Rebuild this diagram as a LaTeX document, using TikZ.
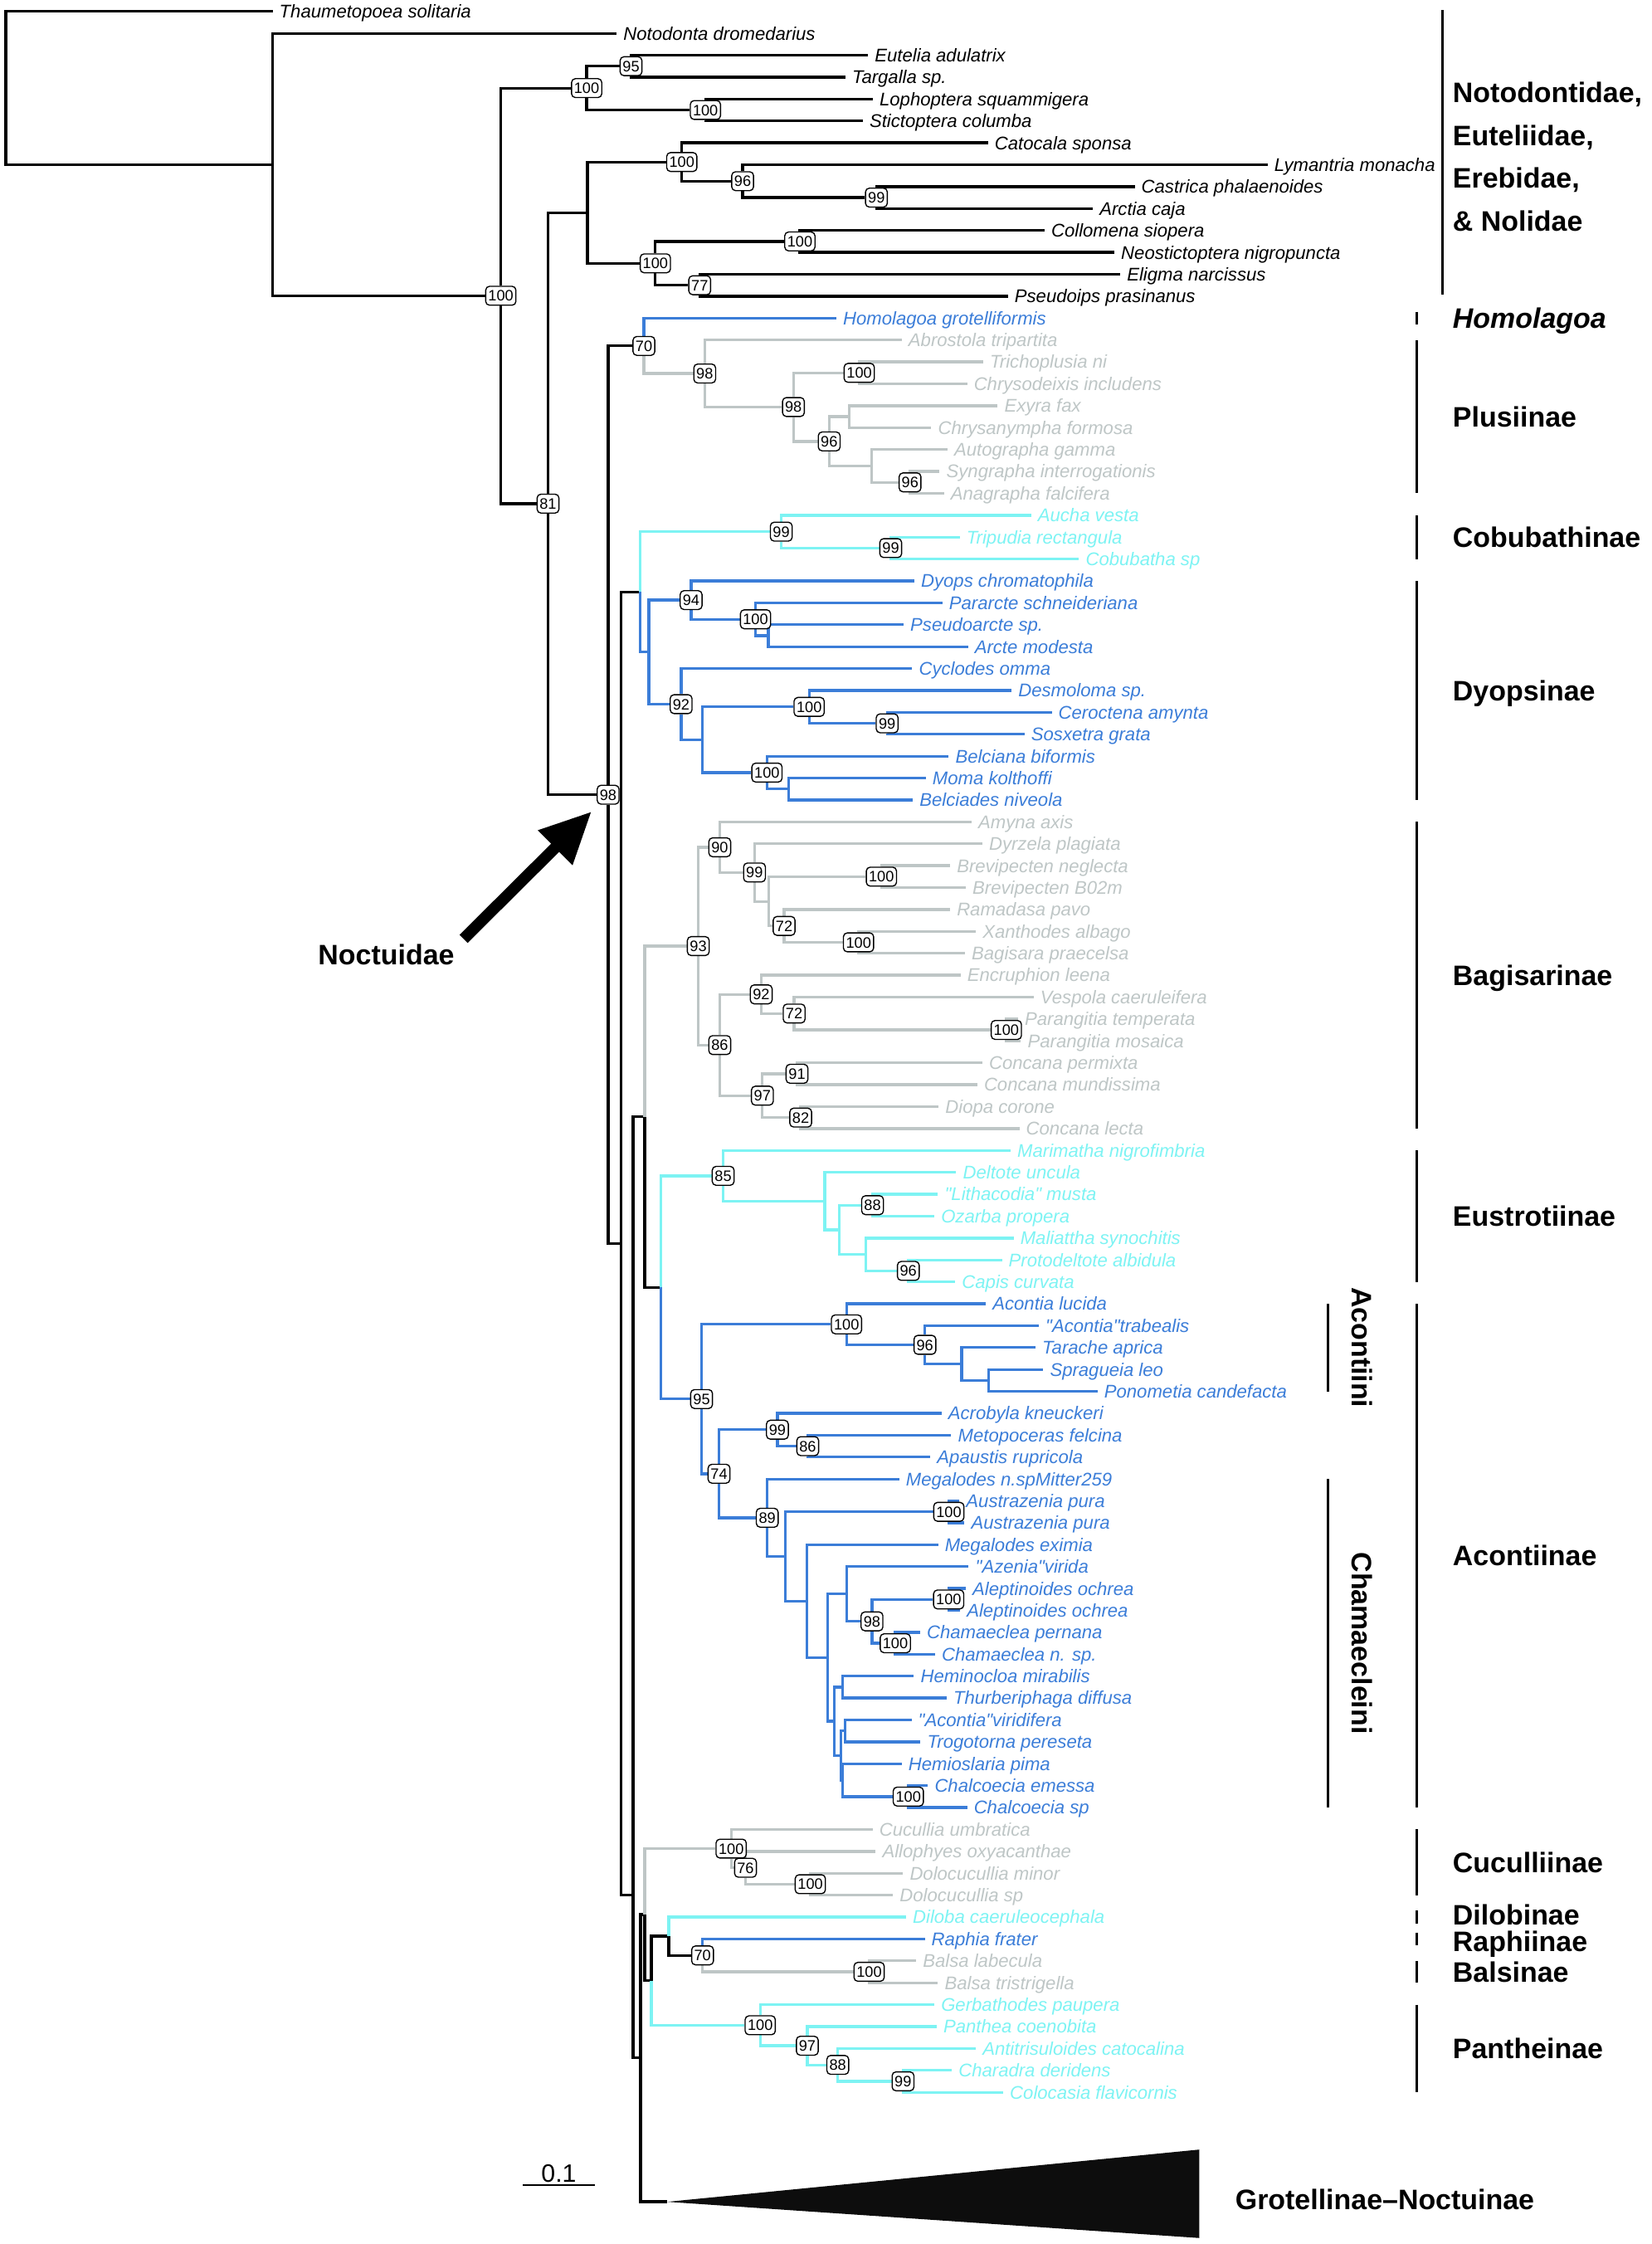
\documentclass[tikz,border=0pt]{standalone}
\usepackage{fontspec}
\setmainfont{Liberation Sans}[Ligatures=TeXOff]
\usetikzlibrary{arrows.meta,backgrounds}
\definecolor{noctblue}{HTML}{3B7DD8}
\definecolor{noctgrey}{HTML}{BEC6C6}
\definecolor{noctcyan}{HTML}{7DF3F3}
% row k of the tree sits at y = 8 + 15.305 k
\newcommand{\rowy}[1]{8+15.305*(#1)}
\newcommand{\leaf}[5]{\node[taxon,text=#4] (#1) at (#3,{\rowy{#2}}) {#5};}
\newcommand{\boot}[4]{\node[bs] (#1) at (#2,{\rowy{#3}}) {#4};}
\newcommand{\knot}[3]{\coordinate (#1) at (#2,{\rowy{#3}});}

\begin{document}
\begin{tikzpicture}[x=0.02cm, y=-0.02cm,
    taxon/.style={anchor=west, inner xsep=2.5pt, inner ysep=0pt, font=\fontsize{7.3}{8}\selectfont\itshape, text height=5.2pt, text depth=0pt},
    bs/.style={draw, rounded corners=1.5pt, fill=white, line width=0.45pt, inner xsep=1pt, inner ysep=1.6pt, font=\fontsize{6}{6}\selectfont, text height=4.3pt, text depth=0pt},
    famlab/.style={anchor=west, inner sep=0pt, font=\fontsize{11.2}{12}\selectfont\bfseries, text height=8pt, text depth=0pt},
    clade/.style={line width=1.1pt},
    famline/.style={line width=0.9pt}
]
\useasboundingbox (0,0) rectangle (1154,1568);

% outgroup families
\leaf{thau}{0}{190.5}{black}{Thaumetopoea solitaria}
\leaf{noto}{1}{431}{black}{Notodonta dromedarius}
\leaf{eute}{2}{606.7}{black}{Eutelia adulatrix}
\leaf{targ}{3}{590.8}{black}{Targalla sp.}
\leaf{loph}{4}{610}{black}{Lophoptera squammigera}
\leaf{stic}{5}{603}{black}{Stictoptera columba}
\leaf{cato}{6}{690.5}{black}{Catocala sponsa}
\leaf{lyma}{7}{885.8}{black}{Lymantria monacha}
\leaf{cast}{8}{793}{black}{Castrica phalaenoides}
\leaf{arct}{9}{763.8}{black}{Arctia caja}
\leaf{coll}{10}{730}{black}{Collomena siopera}
\leaf{neos}{11}{778.8}{black}{Neostictoptera nigropuncta}
\leaf{elig}{12}{782.9}{black}{Eligma narcissus}
\leaf{pseu}{13}{704.4}{black}{Pseudoips prasinanus}
% Noctuidae
\leaf{homo}{14}{584.5}{noctblue}{Homolagoa grotelliformis}
\leaf{abro}{15}{630.2}{noctgrey}{Abrostola tripartita}
\leaf{tric}{16}{687.1}{noctgrey}{Trichoplusia ni}
\leaf{chry}{17}{675.9}{noctgrey}{Chrysodeixis includens}
\leaf{exyr}{18}{697.2}{noctgrey}{Exyra fax}
\leaf{chrn}{19}{650.9}{noctgrey}{Chrysanympha formosa}
\leaf{auto}{20}{662.2}{noctgrey}{Autographa gamma}
\leaf{syng}{21}{656.7}{noctgrey}{Syngrapha interrogationis}
\leaf{anag}{22}{659.7}{noctgrey}{Anagrapha falcifera}
\leaf{auch}{23}{720.6}{noctcyan}{Aucha vesta}
\leaf{trip}{24}{670.7}{noctcyan}{Tripudia rectangula}
\leaf{cobu}{25}{754.1}{noctcyan}{Cobubatha sp}
\leaf{dyop}{26}{639}{noctblue}{Dyops chromatophila}
\leaf{para}{27}{658.6}{noctblue}{Pararcte schneideriana}
\leaf{psar}{28}{631.5}{noctblue}{Pseudoarcte sp.}
\leaf{arcm}{29}{676.5}{noctblue}{Arcte modesta}
\leaf{cycl}{30}{637.5}{noctblue}{Cyclodes omma}
\leaf{desm}{31}{707}{noctblue}{Desmoloma sp.}
\leaf{cero}{32}{735}{noctblue}{Ceroctena amynta}
\leaf{sosx}{33}{716}{noctblue}{Sosxetra grata}
\leaf{belc}{34}{663}{noctblue}{Belciana biformis}
\leaf{moma}{35}{647}{noctblue}{Moma kolthoffi}
\leaf{belv}{36}{638}{noctblue}{Belciades niveola}
\leaf{amyn}{37}{679}{noctgrey}{Amyna axis}
\leaf{dyrz}{38}{686.5}{noctgrey}{Dyrzela plagiata}
\leaf{brev}{39}{664}{noctgrey}{Brevipecten neglecta}
\leaf{brvb}{40}{675}{noctgrey}{Brevipecten B02m}
\leaf{rama}{41}{664}{noctgrey}{Ramadasa pavo}
\leaf{xant}{42}{682}{noctgrey}{Xanthodes albago}
\leaf{bagi}{43}{674.4}{noctgrey}{Bagisara praecelsa}
\leaf{encr}{44}{671.3}{noctgrey}{Encruphion leena}
\leaf{vesp}{45}{722.4}{noctgrey}{Vespola caeruleifera}
\leaf{part}{46}{711.5}{noctgrey}{Parangitia temperata}
\leaf{parm}{47}{713.5}{noctgrey}{Parangitia mosaica}
\leaf{cope}{48}{686.5}{noctgrey}{Concana permixta}
\leaf{comu}{49}{683}{noctgrey}{Concana mundissima}
\leaf{diop}{50}{656}{noctgrey}{Diopa corone}
\leaf{cole}{51}{712.4}{noctgrey}{Concana lecta}
\leaf{mari}{52}{706.3}{noctcyan}{Marimatha nigrofimbria}
\leaf{delt}{53}{668.3}{noctcyan}{Deltote uncula}
\leaf{lith}{54}{655.5}{noctcyan}{"Lithacodia" musta}
\leaf{ozar}{55}{653}{noctcyan}{Ozarba propera}
\leaf{mali}{56}{708.4}{noctcyan}{Maliattha synochitis}
\leaf{prot}{57}{700.2}{noctcyan}{Protodeltote albidula}
\leaf{capi}{58}{667.6}{noctcyan}{Capis curvata}
\leaf{aclu}{59}{689}{noctblue}{Acontia lucida}
\leaf{actr}{60}{726}{noctblue}{"Acontia"trabealis}
\leaf{tara}{61}{723.7}{noctblue}{Tarache aprica}
\leaf{spra}{62}{729.1}{noctblue}{Spragueia leo}
\leaf{pono}{63}{767}{noctblue}{Ponometia candefacta}
\leaf{acro}{64}{658}{noctblue}{Acrobyla kneuckeri}
\leaf{meto}{65}{664.8}{noctblue}{Metopoceras felcina}
\leaf{apau}{66}{650.2}{noctblue}{Apaustis rupricola}
\leaf{megn}{67}{628.4}{noctblue}{Megalodes n.spMitter259}
\leaf{ausa}{68}{670.5}{noctblue}{Austrazenia pura}
\leaf{ausb}{69}{674}{noctblue}{Austrazenia pura}
\leaf{mege}{70}{655.6}{noctblue}{Megalodes eximia}
\leaf{azen}{71}{677}{noctblue}{"Azenia"virida}
\leaf{alea}{72}{675}{noctblue}{Aleptinoides ochrea}
\leaf{aleb}{73}{671}{noctblue}{Aleptinoides ochrea}
\leaf{chpe}{74}{643}{noctblue}{Chamaeclea pernana}
\leaf{chns}{75}{653.5}{noctblue}{Chamaeclea n. sp.}
\leaf{hemi}{76}{638.7}{noctblue}{Heminocloa mirabilis}
\leaf{thur}{77}{661.6}{noctblue}{Thurberiphaga diffusa}
\leaf{acvi}{78}{637}{noctblue}{"Acontia"viridifera}
\leaf{trog}{79}{643.3}{noctblue}{Trogotorna pereseta}
\leaf{hems}{80}{630.2}{noctblue}{Hemioslaria pima}
\leaf{chem}{81}{648.5}{noctblue}{Chalcoecia emessa}
\leaf{chsp}{82}{675.9}{noctblue}{Chalcoecia sp}
\leaf{cucu}{83}{609.8}{noctgrey}{Cucullia umbratica}
\leaf{allo}{84}{612}{noctgrey}{Allophyes oxyacanthae}
\leaf{dolm}{85}{631.1}{noctgrey}{Dolocucullia minor}
\leaf{dols}{86}{624.1}{noctgrey}{Dolocucullia sp}
\leaf{dilo}{87}{633.2}{noctcyan}{Diloba caeruleocephala}
\leaf{raph}{88}{646.3}{noctblue}{Raphia frater}
\leaf{ball}{89}{640.3}{noctgrey}{Balsa labecula}
\leaf{balt}{90}{655.5}{noctgrey}{Balsa tristrigella}
\leaf{gerb}{91}{653}{noctcyan}{Gerbathodes paupera}
\leaf{pant}{92}{654.6}{noctcyan}{Panthea coenobita}
\leaf{anti}{93}{682}{noctcyan}{Antitrisuloides catocalina}
\leaf{char}{94}{665.2}{noctcyan}{Charadra deridens}
\leaf{colo}{95}{701.1}{noctcyan}{Colocasia flavicornis}

% inner nodes, top part
\knot{root}{4}{3.5}
\knot{n190}{190.5}{7}
\boot{n100a}{350}{12.98}{100}
\boot{n100eut}{410}{3.5}{100}
\boot{n95}{441}{2.5}{95}
\boot{n100lop}{493}{4.5}{100}
\knot{nErb}{410.5}{9.19}
\boot{n100cat}{476.5}{6.875}{100}
\boot{n96lym}{519}{7.75}{96}
\boot{n99cas}{612.5}{8.5}{99}
\boot{n100col}{458}{11.5}{100}
\boot{n100neo}{559}{10.5}{100}
\boot{n77}{489}{12.5}{77}
\boot{n81}{383}{22.47}{81}
\boot{n98}{425}{35.76}{98}
% Homolagoa, Plusiinae
\boot{n70}{450}{15.27}{70}
\boot{n98plu}{492.5}{16.53}{98}
\boot{n98plub}{554.5}{18.06}{98}
\boot{n100tri}{600.5}{16.5}{100}
\boot{n96plu}{579.5}{19.63}{96}
\knot{cExy}{593.5}{18.5}
\knot{cAut}{609}{20.75}
\boot{n96syn}{636}{21.5}{96}
% backbone
\knot{nA}{434}{56.25}
\knot{nX2}{447.5}{26.5}
\knot{nBj}{442.5}{86}
\knot{nX4}{450.5}{50.46}
\knot{nX6}{462}{58.26}
\knot{nW}{447.6}{93.43}
\knot{nV}{450.6}{86.89}
\knot{cZ}{455.2}{89.9}
\knot{tritip}{466.3}{100}
% Cobubathinae, Dyopsinae
\boot{n99auc}{546}{23.75}{99}
\boot{n99tri}{622.5}{24.5}{99}
\knot{cDyo}{453.5}{29.25}
\boot{n94}{483}{26.875}{94}
\boot{n100par}{528}{27.75}{100}
\knot{cArc}{537}{28.5}
\boot{n92dyo}{476}{31.625}{92}
\knot{cDyoB}{491}{33.25}
\boot{n100des}{565.5}{31.75}{100}
\boot{n99cer}{620}{32.5}{99}
\boot{n100bel}{536}{34.75}{100}
\knot{cMom}{551}{35.5}
% Bagisarinae
\boot{n93}{488}{42.67}{93}
\boot{n90}{503}{38.16}{90}
\boot{n99dyr}{527.3}{39.31}{99}
\knot{cBre}{537.4}{40.63}
\boot{n100bre}{616}{39.5}{100}
\boot{n72ram}{548}{41.75}{72}
\boot{n100xan}{600}{42.5}{100}
\boot{n86bag}{503}{47.19}{86}
\boot{n92enc}{532}{44.875}{92}
\boot{n72ves}{555}{45.75}{72}
\boot{n100parang}{703.3}{46.5}{100}
\boot{n97con}{532.8}{49.5}{97}
\boot{n91}{557}{48.5}{91}
\boot{n82}{559.6}{50.5}{82}
% Eustrotiinae
\boot{n85}{505.4}{53.16}{85}
\knot{cDel}{576.3}{54.31}
\knot{cLit}{586.7}{55.63}
\boot{n88lit}{609.8}{54.5}{88}
\knot{cMal}{605}{56.75}
\boot{n96pro}{634.8}{57.5}{96}
% Acontiinae
\boot{n95aco}{490.3}{63.35}{95}
\boot{n100aco}{591.6}{59.94}{100}
\boot{n96tra}{646.4}{60.875}{96}
\knot{cTar}{672}{61.75}
\knot{cSpr}{691}{62.5}
\boot{n74}{502.5}{66.76}{74}
\boot{n99acr}{543.3}{64.75}{99}
\boot{n86met}{564.5}{65.5}{86}
\boot{n89}{536.2}{68.77}{89}
\knot{cQ1}{549}{70.54}
\boot{n100aus}{663.1}{68.5}{100}
\knot{cQ2}{564}{72.58}
\knot{cQ3}{578.5}{75.16}
\knot{cQ4}{591.7}{72.25}
\boot{n98ale}{609.4}{73.5}{98}
\boot{n100ale}{663}{72.5}{100}
\boot{n100cha}{625.7}{74.5}{100}
\knot{cQ5}{583}{78.06}
\knot{cQ6}{589}{76.5}
\knot{cQ7}{587.6}{79.63}
\knot{cQ8}{590.6}{78.5}
\knot{cQ9}{589}{80.75}
\boot{n100chl}{634.8}{81.5}{100}
% Cuculliinae to Pantheinae
\boot{n100cuc}{511}{83.875}{100}
\boot{n76}{521}{84.75}{76}
\boot{n100dol}{566.3}{85.5}{100}
\knot{cDil}{467.4}{87.875}
\boot{n70bal}{491}{88.75}{70}
\boot{n100bal}{607.4}{89.5}{100}
\boot{n100pan}{531.3}{91.94}{100}
\boot{n97pan}{564.2}{92.875}{97}
\boot{n88pan}{585.5}{93.75}{88}
\boot{n99pan}{631.1}{94.5}{99}

% branches
\begin{scope}[on background layer]
\foreach \a/\b in {root/thau, root/n190, n190/noto, n190/n100a, n100a/n100eut, n100a/n81,
    n100eut/n95, n100eut/n100lop, n95/eute, n95/targ, n100lop/loph, n100lop/stic,
    n81/nErb, nErb/n100cat, nErb/n100col, n100cat/cato, n100cat/n96lym, n96lym/lyma,
    n96lym/n99cas, n99cas/cast, n99cas/arct, n100col/n100neo, n100col/n77,
    n100neo/coll, n100neo/neos, n77/elig, n77/pseu, n81/n98, n98/n70, n98/nA,
    nA/nX2, nA/nBj, nBj/nX4, nBj/nW, nX4/nX6, nW/nV, nW/tritip, nV/cZ, cZ/cDil, cDil/n70bal}
    \draw[clade] (\a) |- (\b);
\foreach \a/\b in {n70/homo, nX2/cDyo, cDyo/n94, cDyo/n92dyo, n94/dyop, n94/n100par,
    n100par/para, n100par/cArc, cArc/psar, cArc/arcm, n92dyo/cycl, n92dyo/cDyoB,
    cDyoB/n100des, cDyoB/n100bel, n100des/desm, n100des/n99cer, n99cer/cero, n99cer/sosx,
    n100bel/belc, n100bel/cMom, cMom/moma, cMom/belv,
    nX6/n95aco, n95aco/n100aco, n95aco/n74, n100aco/aclu, n100aco/n96tra, n96tra/actr,
    n96tra/cTar, cTar/tara, cTar/cSpr, cSpr/spra, cSpr/pono, n74/n99acr, n74/n89,
    n99acr/acro, n99acr/n86met, n86met/meto, n86met/apau, n89/megn, n89/cQ1,
    cQ1/n100aus, cQ1/cQ2, n100aus/ausa, n100aus/ausb, cQ2/mege, cQ2/cQ3, cQ3/cQ4, cQ3/cQ5,
    cQ4/azen, cQ4/n98ale, n98ale/n100ale, n98ale/n100cha, n100ale/alea, n100ale/aleb,
    n100cha/chpe, n100cha/chns, cQ5/cQ6, cQ5/cQ7, cQ6/hemi, cQ6/thur, cQ7/cQ8, cQ7/cQ9,
    cQ8/acvi, cQ8/trog, cQ9/hems, cQ9/n100chl, n100chl/chem, n100chl/chsp, n70bal/raph}
    \draw[clade, noctblue] (\a) |- (\b);
\foreach \a/\b in {n70/n98plu, n98plu/abro, n98plu/n98plub, n98plub/n100tri, n98plub/n96plu,
    n100tri/tric, n100tri/chry, n96plu/cExy, n96plu/cAut, cExy/exyr, cExy/chrn,
    cAut/auto, cAut/n96syn, n96syn/syng, n96syn/anag,
    nX4/n93, n93/n90, n93/n86bag, n90/amyn, n90/n99dyr, n99dyr/dyrz, n99dyr/cBre,
    cBre/n100bre, cBre/n72ram, n100bre/brev, n100bre/brvb, n72ram/rama, n72ram/n100xan,
    n100xan/xant, n100xan/bagi, n86bag/n92enc, n86bag/n97con, n92enc/encr, n92enc/n72ves,
    n72ves/vesp, n72ves/n100parang, n100parang/part, n100parang/parm, n97con/n91,
    n97con/n82, n91/cope, n91/comu, n82/diop, n82/cole,
    nV/n100cuc, n100cuc/cucu, n100cuc/n76, n76/allo, n76/n100dol, n100dol/dolm,
    n100dol/dols, n70bal/n100bal, n100bal/ball, n100bal/balt}
    \draw[clade, noctgrey] (\a) |- (\b);
\foreach \a/\b in {nX2/n99auc, n99auc/auch, n99auc/n99tri, n99tri/trip, n99tri/cobu,
    nX6/n85, n85/mari, n85/cDel, cDel/delt, cDel/cLit, cLit/n88lit, cLit/cMal,
    n88lit/lith, n88lit/ozar, cMal/mali, cMal/n96pro, n96pro/prot, n96pro/capi,
    cZ/n100pan, cDil/dilo, n100pan/gerb, n100pan/n97pan, n97pan/pant, n97pan/n88pan,
    n88pan/anti, n88pan/n99pan, n99pan/char, n99pan/colo}
    \draw[clade, noctcyan] (\a) |- (\b);
\end{scope}

% collapsed clade
\fill[black!95] (tritip) -- (838.2,1502) -- (838.2,1563.8) -- cycle;
\node[famlab] (grolab) at (863,1537) {Grotellinae–Noctuinae};

% scale bar
\coordinate (sbl) at (365.5,1526.7);
\coordinate (sbr) at (415.6,1526.7);
\draw[line width=0.8pt] (sbl) -- node[above=0pt, inner sep=0.6pt, font=\fontsize{10}{10}\selectfont] (sblab) {0.1} (sbr);

% Noctuidae arrow
\node[famlab] (noctlab) at (222,667) {Noctuidae};
\coordinate (arrowtail) at (324,656);
\coordinate (arrowtip) at (413.5,567);
\draw[line width=0.16cm, -{Triangle[length=0.72cm, width=0.64cm]}] (arrowtail) -- (arrowtip);

% family brackets and names
\draw[famline] (1008,7) -- (1008,206);
\foreach \t [count=\i] in {Notodontidae{,}, Euteliidae{,}, Erebidae{,}, \& Nolidae}
    \node[famlab] (fam\i) at (1015,{34.9+29.9*\i}) {\t};
\foreach \a/\b in {15/22, 23/25, 26/36, 37/51, 52/58, 59/82, 83/86, 89/90, 91/95}
    \draw[famline] (990,{\rowy{\a}}) -- (990,{\rowy{\b}});
\foreach \a in {14, 87, 88}
    \draw[famline] (990,{\rowy{\a}-4.5}) -- (990,{\rowy{\a}+4.5});
\node[famlab] (fhomo) at (1015,{\rowy{14}}) {\itshape Homolagoa};
\foreach \t/\a/\b in {Plusiinae/15/22, Cobubathinae/23/25, Dyopsinae/26/36, Bagisarinae/37/51,
    Eustrotiinae/52/58, Acontiinae/59/82, Cuculliinae/83/86, Balsinae/89/90, Pantheinae/91/95}
    \node[famlab] (f\t) at (1015,{\rowy{(\a+\b)/2}}) {\t};
\node[famlab] (fDilobinae) at (1015,{\rowy{87}-1.5}) {Dilobinae};
\node[famlab] (fRaphiinae) at (1015,{\rowy{88}+1.5}) {Raphiinae};
% tribes of Acontiinae
\draw[famline] (928,{\rowy{59}}) -- (928,{\rowy{63}});
\draw[famline] (928,{\rowy{67}}) -- (928,{\rowy{82}});
\node[famlab, anchor=center, rotate=-90] (facon) at (952,{\rowy{61}}) {Acontiini};
\node[famlab, anchor=center, rotate=-90] (fcham) at (952,{\rowy{74.5}}) {Chamaecleini};
\end{tikzpicture}
\end{document}
